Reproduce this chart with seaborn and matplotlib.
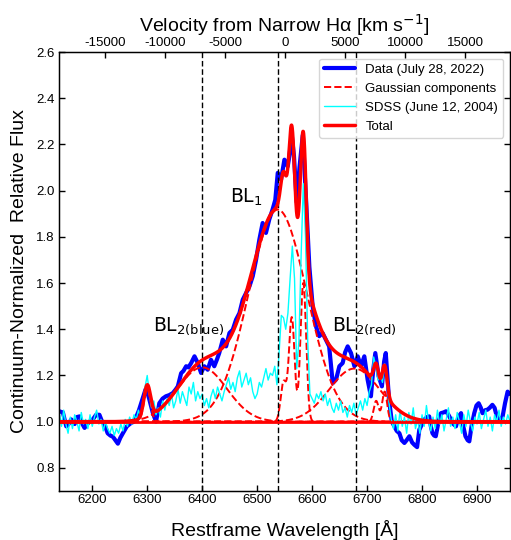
import numpy as np
import matplotlib
matplotlib.use("Agg")
import matplotlib.pyplot as plt
import seaborn as sns

blue_wave = [6140, 6146.6, 6152.7, 6157, 6161.8, 6168, 6172, 6177, 6182, 6186,
             6191, 6195, 6201, 6207, 6213, 6218, 6222, 6228, 6233, 6237.5,
             6242, 6246.6, 6251, 6255.7, 6263, 6271, 6276, 6280, 6285, 6289,
             6293, 6297, 6301, 6304, 6310, 6316, 6322, 6328, 6334, 6340,
             6346.6, 6352, 6355.7, 6361.7, 6366, 6370.8, 6375, 6380, 6386, 6392,
             6398, 6404, 6410, 6416, 6422, 6427, 6431, 6437.5, 6443.5, 6449.6,
             6455.6, 6461.7, 6467.8, 6473.8, 6479.9, 6486, 6492, 6498, 6504, 6510,
             6516, 6522, 6528, 6533, 6537.5, 6543.5, 6549.6, 6555.6, 6558.7, 6563,
             6567, 6572, 6577, 6583, 6589, 6595, 6601, 6607, 6613, 6619,
             6625, 6631, 6637.5, 6643.5, 6649.6, 6655.6, 6660, 6664.7, 6670.8, 6677,
             6683, 6689, 6695, 6701, 6707, 6711, 6715, 6721, 6727, 6731,
             6734, 6740, 6745, 6749.7, 6754, 6758.8, 6763, 6767.9, 6772, 6777,
             6782, 6786, 6791, 6795, 6800, 6804, 6809, 6813, 6816, 6819,
             6822, 6825, 6830, 6834.5, 6839, 6843.6, 6848, 6852.7, 6857, 6861.8,
             6866, 6871, 6875, 6879, 6883, 6886, 6890, 6895, 6899, 6903,
             6907, 6910, 6915, 6919, 6923, 6928, 6932, 6937.5, 6942, 6946.6,
             6951, 6955.7, 6960]
blue_flux = [1.045, 1.04, 0.98, 0.99, 1.01, 0.99, 1.02, 1.023, 0.99, 0.973,
             0.99, 1.0, 1.01, 1.03, 1.03, 1.0, 0.99, 0.95, 0.94, 0.935,
             0.92, 0.905, 0.93, 0.95, 0.98, 0.995, 1.0, 1.02, 1.05, 1.08,
             1.11, 1.14, 1.12, 1.095, 1.04, 1.0, 1.08, 1.10, 1.11, 1.115,
             1.124, 1.14, 1.153, 1.21, 1.22, 1.24, 1.235, 1.254, 1.283, 1.254,
             1.211, 1.24, 1.225, 1.268, 1.24, 1.27, 1.297, 1.355, 1.326, 1.384,
             1.398, 1.442, 1.47, 1.528, 1.557, 1.586, 1.63, 1.70, 1.788, 1.86,
             1.817, 1.875, 1.918, 1.96, 2.077, 2.048, 2.134, 2.105, 2.15, 2.24,
             2.15, 1.95, 2.10, 2.24, 1.96, 1.67, 1.50, 1.413, 1.37, 1.384,
             1.355, 1.326, 1.168, 1.182, 1.24, 1.254, 1.30, 1.326, 1.297, 1.24,
             1.283, 1.24, 1.283, 1.182, 1.11, 1.22, 1.297, 1.197, 1.153, 1.26,
             1.297, 1.095, 1.0, 0.98, 0.96, 0.95, 0.92, 0.908, 0.92, 0.937,
             0.91, 0.90, 0.89, 0.965, 0.99, 1.009, 1.02, 1.023, 0.98, 0.95,
             0.94, 0.937, 1.0, 1.037, 1.04, 1.045, 1.03, 1.009, 0.99, 0.98,
             1.02, 1.037, 0.98, 0.937, 0.92, 0.915, 0.98, 1.037, 1.07, 1.08,
             1.06, 1.037, 1.05, 1.052, 1.06, 1.073, 1.06, 1.009, 1.01, 1.023,
             1.08, 1.13, 1.12]

# --- SDSS spectrum (June 12, 2004), 4 A sampling, in segments ---
sdss_start = [6140, 6280, 6340, 6540, 6604, 6752]
sdss_seg_a = [1.04, 0.98, 1.05, 0.99, 0.95, 1.02, 0.97, 1.03, 1.00, 0.96,
              1.04, 0.99, 1.01, 0.97, 1.03, 0.98, 1.02, 1.05, 0.99, 1.01,
              0.96, 1.00, 0.97, 0.95, 0.98, 0.94, 0.97, 0.95, 0.99, 0.96,
              1.01, 0.98, 1.02, 0.99, 1.03]
sdss_seg_b = [1.01, 1.05, 1.02, 1.08, 1.15, 1.20, 1.12, 1.06, 1.09, 1.03,
              1.06, 1.02, 1.09, 1.05, 1.10]
sdss_seg_c = [1.07, 1.12, 1.06, 1.09, 1.14, 1.08, 1.13, 1.10, 1.07, 1.15,
              1.12, 1.17, 1.09, 1.13, 1.10, 1.12, 1.07, 1.10, 1.06, 1.11,
              1.14, 1.10, 1.15, 1.12, 1.09, 1.13, 1.16, 1.19, 1.14, 1.17,
              1.13, 1.19, 1.22, 1.15, 1.18, 1.21, 1.16, 1.19, 1.13, 1.10,
              1.12, 1.17, 1.15, 1.19, 1.23, 1.18, 1.21, 1.20, 1.24, 1.16]
sdss_seg_d = [1.30, 1.46, 1.45, 1.40, 1.47, 1.62, 1.76, 1.62, 1.23, 1.35,
              1.72, 2.03, 1.80, 1.35, 1.12, 1.10]
sdss_seg_e = [1.08, 1.12, 1.10, 1.13, 1.09, 1.12, 1.07, 1.10, 1.06, 1.04,
              1.08, 1.05, 1.09, 1.04, 1.06, 1.02, 1.07, 1.04, 1.08, 1.03,
              1.06, 1.09, 1.05, 1.10, 1.07, 1.13, 1.16, 1.28, 1.24, 1.18,
              1.21, 1.17, 1.25, 1.16, 1.08, 1.01, 0.97]
sdss_seg_f = [1.03, 0.96, 1.05, 0.98, 1.02, 0.95, 1.04, 0.99, 1.06, 0.97,
              1.01, 0.95, 1.03, 0.98, 1.07, 1.00, 0.96, 1.02, 0.97, 1.05,
              0.99, 1.03, 0.96, 1.01, 1.06, 0.98, 1.02, 0.97, 1.04, 1.00,
              0.95, 1.03, 0.98, 1.05, 1.00, 0.96, 1.02, 0.99, 1.04, 0.97,
              1.01, 1.05, 0.98, 1.02, 0.96, 1.03, 1.00, 1.05, 0.98, 1.02,
              0.99, 1.03, 1.00]

# --- Gaussian components of the fit: centre [A], sigma [A], amplitude ---
# group: broad lines drawn alone, narrow blends drawn as one dashed curve
comp_group = ["BL2b", "BL1", "BL2r", "OI", "HaN", "HaN", "HaN", "SII", "SII"]
comp_center = [6400, 6537.5, 6677, 6300, 6548, 6563, 6584, 6716.5, 6732]
comp_sigma = [45, 53, 46, 6, 5.2, 5.2, 5.2, 4.5, 4.5]
comp_amp = [0.235, 0.918, 0.23, 0.14, 0.17, 0.45, 0.60, 0.09, 0.13]

vlines = [6400, 6537.5, 6679]
vel_ticks = [-15000, -10000, -5000, 0, 5000, 10000, 15000]

sdss_wave, sdss_flux = [], []
for start, seg in zip(sdss_start, [sdss_seg_a, sdss_seg_b, sdss_seg_c,
                                   sdss_seg_d, sdss_seg_e, sdss_seg_f]):
    sdss_wave += [start + 4 * i for i in range(len(seg))]
    sdss_flux += seg

grid = np.arange(6140, 6960.25, 0.25)
groups = {}
for g, c, s, a in zip(comp_group, comp_center, comp_sigma, comp_amp):
    groups[g] = groups.get(g, 0) + a * np.exp(-0.5 * ((grid - c) / s) ** 2)
total = 1 + np.sum(list(groups.values()), axis=0)

sns.set_style("ticks")
plt.rcParams["font.family"] = ["Liberation Sans", "DejaVu Sans"]
plt.rcParams["mathtext.fontset"] = "dejavusans"
for key in ["text.color", "axes.labelcolor", "xtick.color", "ytick.color",
            "axes.edgecolor"]:
    plt.rcParams[key] = "black"

fig = plt.figure(figsize=(5.11, 5.40), dpi=100)
ax = fig.add_axes([0.116, 0.0907, 0.882, 0.813])

sns.lineplot(x=blue_wave, y=blue_flux, color="blue", lw=3, sort=False,
             estimator=None, ax=ax, label="Data (July 28, 2022)")
for i, comp in enumerate(groups.values()):
    sns.lineplot(x=grid, y=1 + comp, color="red", ls="--", lw=1.4, ax=ax,
                 estimator=None, label="Gaussian components" if i == 0 else None)
sns.lineplot(x=sdss_wave, y=sdss_flux, color="cyan", lw=1, sort=False,
             estimator=None, ax=ax, label="SDSS (June 12, 2004)")
for v in vlines:
    ax.axvline(v, color="black", ls=(0, (4, 2)), lw=1, zorder=4)
ax.axhline(1.0, color="red", lw=2, zorder=5)
sns.lineplot(x=grid, y=total, color="red", lw=2.5, estimator=None, ax=ax,
             label="Total", zorder=6)

ax.text(6451, 1.948, "BL$_1$", fontsize=13.5, family="DejaVu Sans")
ax.text(6310, 1.395, "BL$_{2\\rm (blue)}$", fontsize=13.5, family="DejaVu Sans")
ax.text(6636, 1.395, "BL$_{2\\rm (red)}$", fontsize=13.5, family="DejaVu Sans")

ax.set_xlim(6140, 6960)
ax.set_ylim(0.7, 2.6)
ax.set_xticks(range(6200, 6901, 100))
ax.set_yticks(np.arange(0.8, 2.61, 0.2))
ax.set_yticklabels([f"{t:.1f}" for t in np.arange(0.8, 2.61, 0.2)])
ax.tick_params(axis="both", direction="in", length=4, width=1,
               labelsize=9.5, left=True, bottom=True, right=True, top=False)
ax.tick_params(axis="x", pad=2.5)
ax.set_xlabel("Restframe Wavelength [Å]", fontsize=14, labelpad=10)
ax.set_ylabel("Continuum-Normalized  Relative Flux", fontsize=14, labelpad=6)
for sp in ax.spines.values():
    sp.set_color("black")
    sp.set_linewidth(1)

ax2 = ax.twiny()
ax2.set_xlim(-18800, 18750)
ax2.set_xticks(vel_ticks)
ax2.set_xticklabels([str(t) for t in vel_ticks])
ax2.tick_params(axis="x", direction="in", length=4, width=1, labelsize=9.5,
                pad=2, top=True, bottom=False)
ax2.set_xlabel("Velocity from Narrow Hα [km s$^{-1}$]", fontsize=14, labelpad=4)

handles, labels = ax.get_legend_handles_labels()
leg = ax.legend(handles, labels, loc="upper right", fontsize=9.5,
                handlelength=2.3, frameon=True, fancybox=True,
                borderaxespad=0.5)
leg.get_frame().set_edgecolor("#cccccc")

fig.savefig("out.png", dpi=100)
